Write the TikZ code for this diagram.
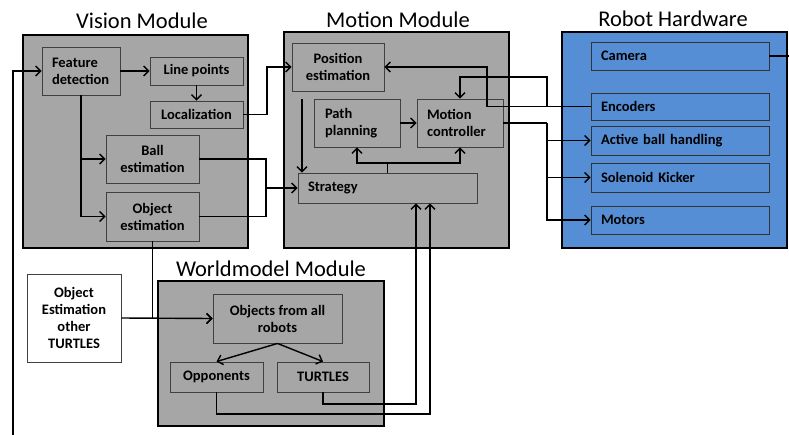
\documentclass[tikz,border=0pt]{standalone}
\usepackage{fontspec}
\setmainfont{Carlito}
\usepackage{xcolor}
\usepackage{tikz}
\usetikzlibrary{calc,arrows.meta}
\definecolor{modgray}{HTML}{A6A6A6}
\definecolor{hwblue}{HTML}{558ED5}

\begin{document}
\begin{tikzpicture}[x=1pt,y=-1pt,>={Straight Barb[length=5pt,width=10pt]},
  modbox/.style={draw=black,line width=2.2pt,fill=modgray},
  hwbox/.style={draw=black,line width=2.2pt,fill=hwblue},
  modtitle/.style={font=\fontsize{22.5}{25}\selectfont},
  blk/.style={draw=black!75,line width=0.9pt,fill=modgray,align=center,inner sep=0pt,font=\fontsize{14.5}{17}\selectfont\bfseries},
  hwblk/.style={blk,fill=hwblue,draw=black!80,minimum width=178pt,minimum height=28pt,text width=158pt,align=left},
  wire/.style={line width=1.4pt}]
\useasboundingbox (0,0) rectangle (789,434);
%modules
\draw[modbox] (23,35) rectangle (248,248);
\draw[modbox] (284,32) rectangle (509,248);
\draw[hwbox] (562,32) rectangle (787,248);
\draw[modbox] (158,281) rectangle (384,426);
\node[modtitle] (vtitle) at (142,21) {Vision Module};
\node[modtitle] (mtitle) at (398,20) {Motion Module};
\node[modtitle] (htitle) at (673,19) {Robot Hardware};
\node[modtitle] (wtitle) at (271,269) {Worldmodel Module};
%vision
\node[blk,minimum width=78pt,minimum height=48pt,text width=58pt,align=left] (feat) at (81,71) {Feature\\detection};
\node[blk,minimum width=93pt,minimum height=28pt] (lpts) at (196.5,71) {Line points};
\node[blk,minimum width=93pt,minimum height=27pt] (loc) at (196.5,114.5) {Localization};
\node[blk,minimum width=93pt,minimum height=48pt] (ball) at (152.5,159) {Ball\\estimation};
\node[blk,minimum width=93pt,minimum height=49pt] (obj) at (152.5,216.5) {Object\\estimation};
%motion
\node[blk,minimum width=92pt,minimum height=48pt] (pos) at (338,67) {Position\\estimation};
\node[blk,minimum width=86pt,minimum height=48pt,text width=64pt,align=left] (path) at (357,123) {Path\\planning};
\node[blk,minimum width=86pt,minimum height=48pt,text width=66pt,align=left] (mc) at (460,123) {Motion\\controller};
\node[blk,minimum width=179pt,minimum height=30pt,text width=159pt,align=left] (strat) at (387.5,188) {Strategy};
%hardware
\node[hwblk] (cam) at (680,56) {Camera};
\node[hwblk,minimum height=27pt] (enc) at (680,106.5) {Encoders};
\node[hwblk,minimum height=29pt] (abh) at (680,140.5) {Active ball handling};
\node[hwblk,minimum height=29pt] (sol) at (680,177.5) {Solenoid Kicker};
\node[hwblk] (mot) at (680,220) {Motors};
%worldmodel
\node[blk,minimum width=129pt,minimum height=49pt] (allobj) at (277.5,318.5) {Objects from all\\robots};
\node[blk,minimum width=93pt,minimum height=30pt] (opp) at (216.5,377) {Opponents};
\node[blk,minimum width=92pt,minimum height=30pt] (tur) at (323,377) {TURTLES};
\node[blk,fill=white,minimum width=94pt,minimum height=88pt] (other) at (74,318) {Object\\Estimation\\other\\TURTLES};
%vision wires
\draw[wire,->] (feat.east) -- (lpts.west);
\draw[wire,->] (lpts) -- (loc);
\draw[wire,->] (feat.south) |- (obj.west);
\draw[wire,->] (feat.south |- ball.west) -- (ball.west);
\coordinate (v1) at (267,114.5);
\draw[wire,->] (loc.east) -- (v1) |- (pos.west);
\coordinate (v2) at (266,188);
\draw[wire] (ball.east) -| (v2);
\draw[wire] (obj.east) -| (v2);
\draw[wire,->] (v2) -- (strat.west);
%motion wires
\coordinate (p1) at (302,99);
\draw[wire,->] (p1) -- (p1 |- strat.north);
\draw[wire,->] (path.east) -- (mc.west);
\coordinate (s1) at (387.5,163);
\draw[wire] (strat.north) -- (s1);
\draw[wire,->] (s1) -| (path.south);
\draw[wire,->] (s1) -| (mc.south);
%hardware wires
\coordinate (e1) at (547,77);
\coordinate (e2) at (487,106.5);
\draw[wire,->] (enc.west) -| (e1) -| (mc.north);
\draw[wire,->] (enc.west) -- (e2) |- (pos.east);
\coordinate (m1) at (547,123);
\draw[wire] (mc.east) -- (m1);
\draw[wire,->] (m1) |- (mot.west);
\draw[wire,->] (m1 |- abh.west) -- (abh.west);
\draw[wire,->] (m1 |- sol.west) -- (sol.west);
%camera loop
\coordinate (c1) at (800,56);
\coordinate (c2) at (13,450);
\draw[wire,->] (cam.east) -- (c1) |- (c2) |- (feat.west);
%worldmodel wires
\draw[wire,->] (obj.south) |- (allobj.west);
\draw[wire,->] (other.east) -- (allobj.west);
\draw[wire,->] (allobj.south) -- (opp.north);
\draw[wire,->] (allobj.south) -- (tur.north);
\coordinate (w1) at (416,404);
\coordinate (w2) at (430,414);
\draw[wire,->] (tur.south) |- (w1) -- (w1 |- strat.south);
\draw[wire,->] (opp.south) |- (w2) -- (w2 |- strat.south);
\end{tikzpicture}
\end{document}
